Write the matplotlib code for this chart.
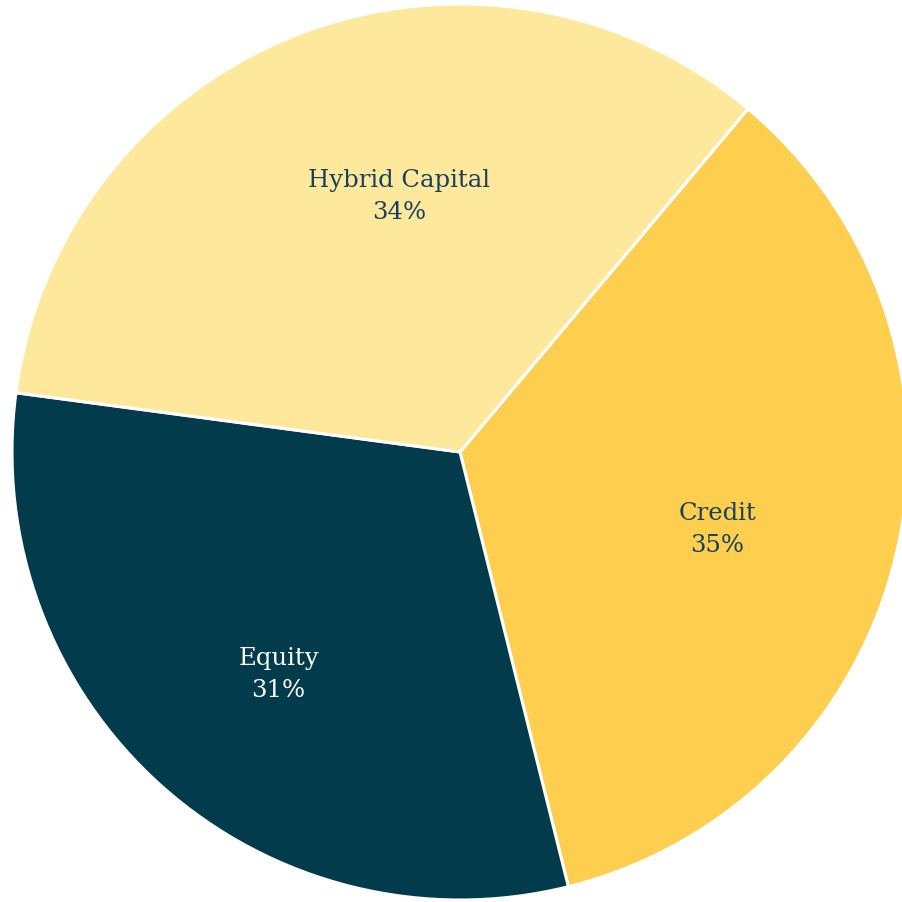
import matplotlib
matplotlib.use("Agg")
import matplotlib.pyplot as plt

# Allocation by strategy
categories = ["Credit", "Equity", "Hybrid Capital"]
shares = [35, 31, 34]

colors = ["#FECE4F", "#023B4B", "#FEE89B"]
text_colors = ["#16405E", "#FFFFFF", "#16405E"]
# label centres in data units (pie radius = 1)
label_pos = [(0.575, -0.17), (-0.405, -0.495), (-0.135, 0.573)]

fig = plt.figure(figsize=(9.03, 9.03), dpi=100)
W = H = 903.0
cx, cy, r = 460.0, 453.0, 448.0
ax = fig.add_axes([(cx - r) / W, (H - cy - r) / H, 2 * r / W, 2 * r / H])

ax.pie(shares, colors=colors, startangle=50, counterclock=False,
       radius=1.0, wedgeprops=dict(edgecolor="white", linewidth=2.2))
ax.set_xlim(-1, 1)
ax.set_ylim(-1, 1)
ax.set_aspect("equal")
ax.axis("off")

for name, val, (x, y), tc in zip(categories, shares, label_pos, text_colors):
    ax.text(x, y, f"{name}\n{val}%", ha="center", va="center",
            color=tc, fontsize=17.5, family="DejaVu Serif", linespacing=1.5)

fig.savefig("out.png", dpi=100)
